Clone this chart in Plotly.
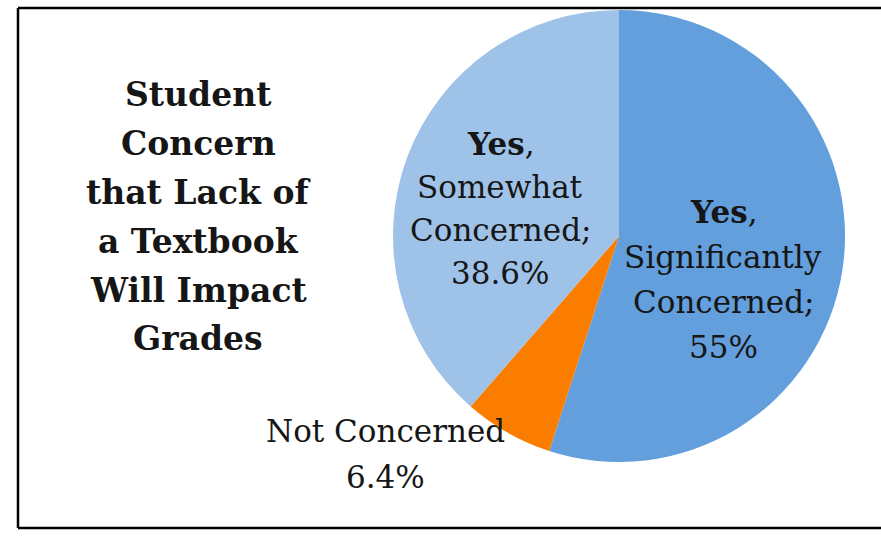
import plotly.graph_objects as go

# ---- data ----
categories = ["Yes, Significantly Concerned", "Not Concerned", "Yes, Somewhat Concerned"]
values = [55, 6.4, 38.6]
colors = ["#629fdc", "#fa7d00", "#9fc3e8"]
label_lines = [
    ["<b>Yes</b>,", "Significantly", "Concerned;"],
    ["Not Concerned"],
    ["<b>Yes</b>,", "Somewhat", "Concerned;"],
]
title_lines = ["Student", "Concern", "that Lack of", "a Textbook", "Will Impact", "Grades"]

# ---- layout constants (pixels) ----
W, H = 881, 537
FONT = "DejaVu Serif"
TEXT_COLOR = "#161616"

def px(x):
    return x / W

def py(y):
    return 1 - y / H

cx, cy, r = 619, 236, 226

fig = go.Figure()
fig.add_trace(go.Pie(
    labels=categories,
    values=values,
    sort=False,
    direction="clockwise",
    rotation=0,
    marker=dict(colors=colors, line=dict(width=0)),
    textinfo="none",
    hoverinfo="label+percent",
    showlegend=False,
    domain=dict(x=[px(cx - r), px(cx + r)], y=[py(cy + r), py(cy - r)]),
))

annotations = []

# title lines
t_x, t_y0, t_dy = 198, 94, 49
for i, line in enumerate(title_lines):
    annotations.append(dict(
        x=px(t_x), y=py(t_y0 + i * t_dy), xref="paper", yref="paper",
        text=f"<b>{line}</b>", showarrow=False, xanchor="center", yanchor="middle",
        font=dict(family=FONT, size=33, color=TEXT_COLOR),
    ))

# slice labels: (center x, first line y, spacing)
label_pos = [(723, 212, 45), (385, 431, 46), (500, 144, 43)]
for lines, v, (lx, ly0, ldy) in zip(label_lines, values, label_pos):
    full = lines + [f"{v}%"]
    for i, line in enumerate(full):
        annotations.append(dict(
            x=px(lx), y=py(ly0 + i * ldy), xref="paper", yref="paper",
            text=line, showarrow=False, xanchor="center", yanchor="middle",
            font=dict(family=FONT, size=31, color=TEXT_COLOR),
        ))

# open frame: left, top and bottom edges only (right edge is outside the picture)
bl, bt, bb = 18, 8, 528
frame_style = dict(color="black", width=2.5)
shapes = [
    dict(type="line", xref="paper", yref="paper", x0=px(bl), x1=px(bl), y0=py(bb), y1=py(bt), line=frame_style),
    dict(type="line", xref="paper", yref="paper", x0=px(bl), x1=1, y0=py(bt), y1=py(bt), line=frame_style),
    dict(type="line", xref="paper", yref="paper", x0=px(bl), x1=1, y0=py(bb), y1=py(bb), line=frame_style),
]

fig.update_layout(
    width=W, height=H,
    margin=dict(l=0, r=0, t=0, b=0),
    paper_bgcolor="white",
    plot_bgcolor="white",
    annotations=annotations,
    shapes=shapes,
)

fig.write_html(
    "out.html",
    config={"displayModeBar": False},
    post_script="document.body.style.margin='0';document.body.style.overflow='hidden';",
)
